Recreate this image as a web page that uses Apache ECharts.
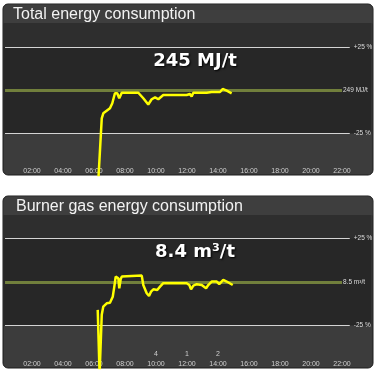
<!DOCTYPE html>
<html><head><meta charset="utf-8">
<script src="https://cdn.jsdelivr.net/npm/echarts@6/dist/echarts.min.js"></script>
<style>html,body{margin:0;padding:0;background:#fff;}#c{width:377px;height:374px;}</style>
</head><body><div id="c"></div>
<script>
// ---- data ----
const titles = ['Total energy consumption', 'Burner gas energy consumption'];
const currentValues = ['245 MJ/t', '8.4 m³/t'];
const targets = [249, 8.5];
const targetLabels = ['249 MJ/t', '8.5 m³/t'];
const bandLabels = ['+25 %', '-25 %'];
const bandFactors = [1.25, 0.75];

const hours1 = [6.28, 6.50, 6.60, 7.03, 7.18, 7.35, 7.50, 7.63, 7.79, 8.86, 9.18, 9.50, 9.72, 9.94, 10.15, 10.47, 11.98, 12.19, 12.30, 12.41, 13.27, 13.37, 13.59, 14.13, 14.30, 14.56, 14.88];
const values1 = [120, 208.7, 215.9, 223.1, 230.3, 244.7, 244.7, 237.5, 245.5, 245.5, 237.5, 228.6, 236.1, 238.9, 236.1, 242.2, 242.2, 243.7, 240.1, 245.5, 245.5, 242.7, 246.6, 246.6, 250.9, 248.4, 244.7];

const hours2 = [6.24, 6.36, 6.50, 6.60, 6.82, 7.03, 7.14, 7.21, 7.31, 7.40, 7.46, 7.57, 7.63, 7.72, 7.79, 7.89, 9.08, 9.18, 9.40, 9.55, 9.68, 9.83, 10.08, 10.26, 10.47, 11.98, 12.15, 12.26, 12.41, 12.63, 12.95, 13.23, 13.37, 13.59, 13.92, 14.08, 14.34, 14.56, 14.95];
const values2 = [7.14, 4.0, 6.90, 7.30, 7.46, 7.49, 7.54, 7.78, 8.27, 8.76, 8.81, 8.68, 8.19, 8.63, 8.76, 8.79, 8.81, 8.35, 7.95, 7.82, 8.03, 8.14, 8.11, 8.27, 8.44, 8.44, 8.35, 8.14, 8.32, 8.39, 8.35, 8.19, 8.35, 8.52, 8.52, 8.40, 8.60, 8.52, 8.35];

const countHours = [10, 12, 14];
const counts = [4, 1, 2];

const yRanges = [[127.2, 345.75], [4.31, 11.76]];

// ---- layout ----
const panels = [
  {x: 3, y: 4, w: 370, h: 171, titleX: 13, titleH: 19, gridTop: 23, gridH: 152, valueY: 61},
  {x: 3, y: 196, w: 370, h: 172, titleX: 16, titleH: 19, gridTop: 215, gridH: 153, valueY: 252}
];

const seriesData = [hours1.map((h, i) => [h, values1[i]]), hours2.map((h, i) => [h, values2[i]])];

const pad = n => (n < 10 ? '0' : '') + n;

const grids = panels.map(p => ({left: 1, right: 4, top: p.gridTop, height: p.gridH, outerBoundsMode: 'none'}));

const timeAxis = gi => ({
  gridIndex: gi, type: 'value', min: 0, max: 24, interval: 2, position: 'bottom',
  axisLine: {show: false}, axisTick: {show: false}, splitLine: {show: false},
  axisLabel: {inside: true, margin: 0, fontSize: 7, color: '#cfcfcf', fontFamily: 'Liberation Sans',
    showMinLabel: false, showMaxLabel: false, formatter: v => pad(v) + ':00'}
});

const xAxes = [timeAxis(0), timeAxis(1), {
  gridIndex: 1, type: 'value', min: 0, max: 24, interval: 2, position: 'bottom', offset: 0,
  axisLine: {show: false}, axisTick: {show: false}, splitLine: {show: false},
  axisLabel: {inside: true, margin: 10, fontSize: 7, color: '#cfcfcf', fontFamily: 'Liberation Sans',
    showMinLabel: false, showMaxLabel: false,
    formatter: v => { const i = countHours.indexOf(v); return i >= 0 ? String(counts[i]) : ''; }}
}];

const yAxes = yRanges.map((r, gi) => ({gridIndex: gi, type: 'value', min: r[0], max: r[1], show: false, splitLine: {show: false}}));

const series = [];
const graphics = [];
panels.forEach((p, i) => {
  const t = targets[i];
  const up = t * bandFactors[0], dn = t * bandFactors[1];
  series.push({
    type: 'line', xAxisIndex: i, yAxisIndex: i, data: seriesData[i], symbol: 'none', silent: true,
    lineStyle: {opacity: 0}, z: 1, animation: false,
    markArea: {
      silent: true, z: -5, animation: false,
      data: [
        [{xAxis: 0.16, yAxis: yRanges[i][1], itemStyle: {color: '#2e2e2e'}}, {xAxis: 23.9, yAxis: up}],
        [{xAxis: 0.16, yAxis: up, itemStyle: {color: '#272727'}}, {xAxis: 23.9, yAxis: dn}]
      ]
    },
    markLine: {
      silent: true, z: 1, symbol: ['none', 'none'], animation: false,
      label: {show: true, position: 'end', fontSize: 6.5, color: '#dddddd', distance: 3, fontFamily: 'Liberation Sans'},
      data: [
        [{coord: [0.26, up], lineStyle: {color: '#d4d4d4', width: 1, type: 'solid'}, label: {formatter: bandLabels[0], distance: 4}}, {coord: [22.5, up]}],
        [{coord: [0.26, t], lineStyle: {color: '#717f3c', width: 3, type: 'solid'}, label: {formatter: targetLabels[i], distance: 1}}, {coord: [22.0, t]}],
        [{coord: [0.26, dn], lineStyle: {color: '#d4d4d4', width: 1, type: 'solid'}, label: {formatter: bandLabels[1], distance: 4}}, {coord: [22.5, dn]}]
      ]
    }
  });
  series.push({
    type: 'line', xAxisIndex: i, yAxisIndex: i, data: seriesData[i], symbol: 'none', silent: true,
    lineStyle: {color: '#ffff00', width: 2.5}, z: 3, clip: true, animation: false
  });
  graphics.push(
    {type: 'rect', z: -10, silent: true, shape: {x: p.x, y: p.y, width: p.w, height: p.h, r: 5},
      style: {fill: '#3c3c3c', stroke: '#1c1c1c', lineWidth: 1}},
    {type: 'rect', z: -9, silent: true, shape: {x: p.x + 0.5, y: p.y + 0.5, width: p.w - 1, height: p.titleH, r: [5, 5, 0, 0]},
      style: {fill: '#3e3e3e'}},
    {type: 'text', z: 10, silent: true, x: p.titleX, y: p.y + p.titleH / 2 + 1,
      style: {text: titles[i], fill: '#f2f2f2', font: '16px "Liberation Sans", Arial, sans-serif', textVerticalAlign: 'middle'}},
    {type: 'text', z: 10, silent: true, x: 195, y: p.valueY,
      style: {text: currentValues[i], fill: '#ffffff', font: 'bold 18px "DejaVu Sans", sans-serif',
        textAlign: 'center', textVerticalAlign: 'middle',
        textShadowColor: '#000', textShadowBlur: 2, textShadowOffsetX: 1, textShadowOffsetY: 1}}
  );
});

const chart = echarts.init(document.getElementById('c'), null, {renderer: 'canvas'});
chart.setOption({
  animation: false,
  backgroundColor: '#ffffff',
  grid: grids,
  xAxis: xAxes,
  yAxis: yAxes,
  series: series,
  graphic: {elements: graphics}
});
</script></body></html>
